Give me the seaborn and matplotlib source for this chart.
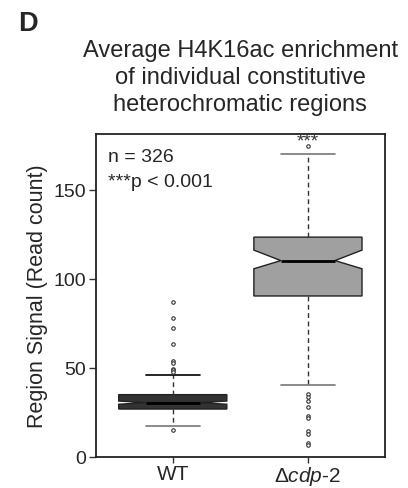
import numpy as np
import pandas as pd
import matplotlib
matplotlib.use("Agg")
import matplotlib.pyplot as plt
import seaborn as sns

# values
groups = ['WT', 'cdp-2']
q1 = [26.7, 90.3]
medians = [30.3, 110.2]
q3 = [34.8, 123.4]
whis_lo = [17.3, 40.3]
whis_hi = [46.1, 170.0]
notch_lo = [29.4, 105.6]
notch_hi = [31.2, 116.1]
wt_outliers = [87.0, 77.8, 72.3, 63.3, 53.7, 52.5, 49.5, 48.6, 47.6, 14.7]
cdp2_outliers = [174.7, 35.4, 33.7, 31.0, 28.0, 22.8, 21.9, 14.1, 12.6, 7.5, 6.4]
tick_labels = ['WT', r'$\Delta\mathit{cdp}$-$\mathit{2}$']
box_colors = ['#333333', '#a0a0a0']

sns.set_style("ticks")
plt.rcParams['font.family'] = ['Liberation Sans', 'DejaVu Sans']
plt.rcParams['mathtext.fontset'] = 'custom'
plt.rcParams['mathtext.rm'] = 'Liberation Sans'
plt.rcParams['mathtext.it'] = 'Liberation Sans:italic'

fig = plt.figure(figsize=(4.08, 4.89), dpi=100)
ax = fig.add_axes([0.2346, 0.0644, 0.7090, 0.6595])

outl = pd.DataFrame({
    'group': [groups[0]] * len(wt_outliers) + [groups[1]] * len(cdp2_outliers),
    'signal': wt_outliers + cdp2_outliers,
})
sns.stripplot(data=outl, x='group', y='signal', order=groups, jitter=False,
              marker='o', size=2.5, color='white', edgecolor='#333333',
              linewidth=0.8, ax=ax, zorder=5)

stats = []
for i in range(len(groups)):
    stats.append({'label': groups[i], 'q1': q1[i], 'med': medians[i], 'q3': q3[i],
                  'whislo': whis_lo[i], 'whishi': whis_hi[i],
                  'cilo': notch_lo[i], 'cihi': notch_hi[i], 'fliers': []})

bp = ax.bxp(stats, positions=[0, 1], widths=0.8, shownotches=True, patch_artist=True,
            showfliers=False, manage_ticks=False,
            boxprops=dict(edgecolor='#222222', linewidth=1.0),
            medianprops=dict(color='black', linewidth=2.0),
            whiskerprops=dict(color='#333333', linewidth=1.0, linestyle=(0, (3.5, 2.5))),
            capprops=dict(color='#777777', linewidth=1.2))
for patch, c in zip(bp['boxes'], box_colors):
    patch.set_facecolor(c)
bp['caps'][1].set_color('black')

ax.set_xlim(-0.57, 1.57)
ax.set_ylim(0, 181.4)
ax.set_xticks([0, 1])
ax.set_xticklabels(tick_labels, fontsize=15)
ax.set_yticks([0, 50, 100, 150])
ax.tick_params(axis='y', labelsize=14, length=5, width=1, color='#333333', pad=2)
ax.tick_params(axis='x', length=4, width=1, color='#333333', pad=1.5)
ax.set_xlabel('')
ax.set_ylabel('Region Signal (Read count)', fontsize=15.5)
ax.yaxis.set_label_coords(-0.165, 0.5)
for s in ax.spines.values():
    s.set_color('#222222')
    s.set_linewidth(1.3)

ax.text(0.0425, 0.917, 'n = 326', transform=ax.transAxes, ha='left', va='baseline', fontsize=14)
ax.text(0.0425, 0.840, '***p < 0.001', transform=ax.transAxes, ha='left', va='baseline', fontsize=14)
ax.text(1, 175.2, '***', ha='center', va='baseline', fontsize=13.5, color='#333333')

fig.text(240.3 / 408, 1 - 78 / 489,
         'Average H4K16ac enrichment\nof individual constitutive\nheterochromatic regions',
         ha='center', va='center', fontsize=17, linespacing=1.31)
fig.text(18 / 408, 1 - 11 / 489, 'D', ha='left', va='top', fontsize=19.5, fontweight='bold')

fig.savefig('out.png', dpi=100)
